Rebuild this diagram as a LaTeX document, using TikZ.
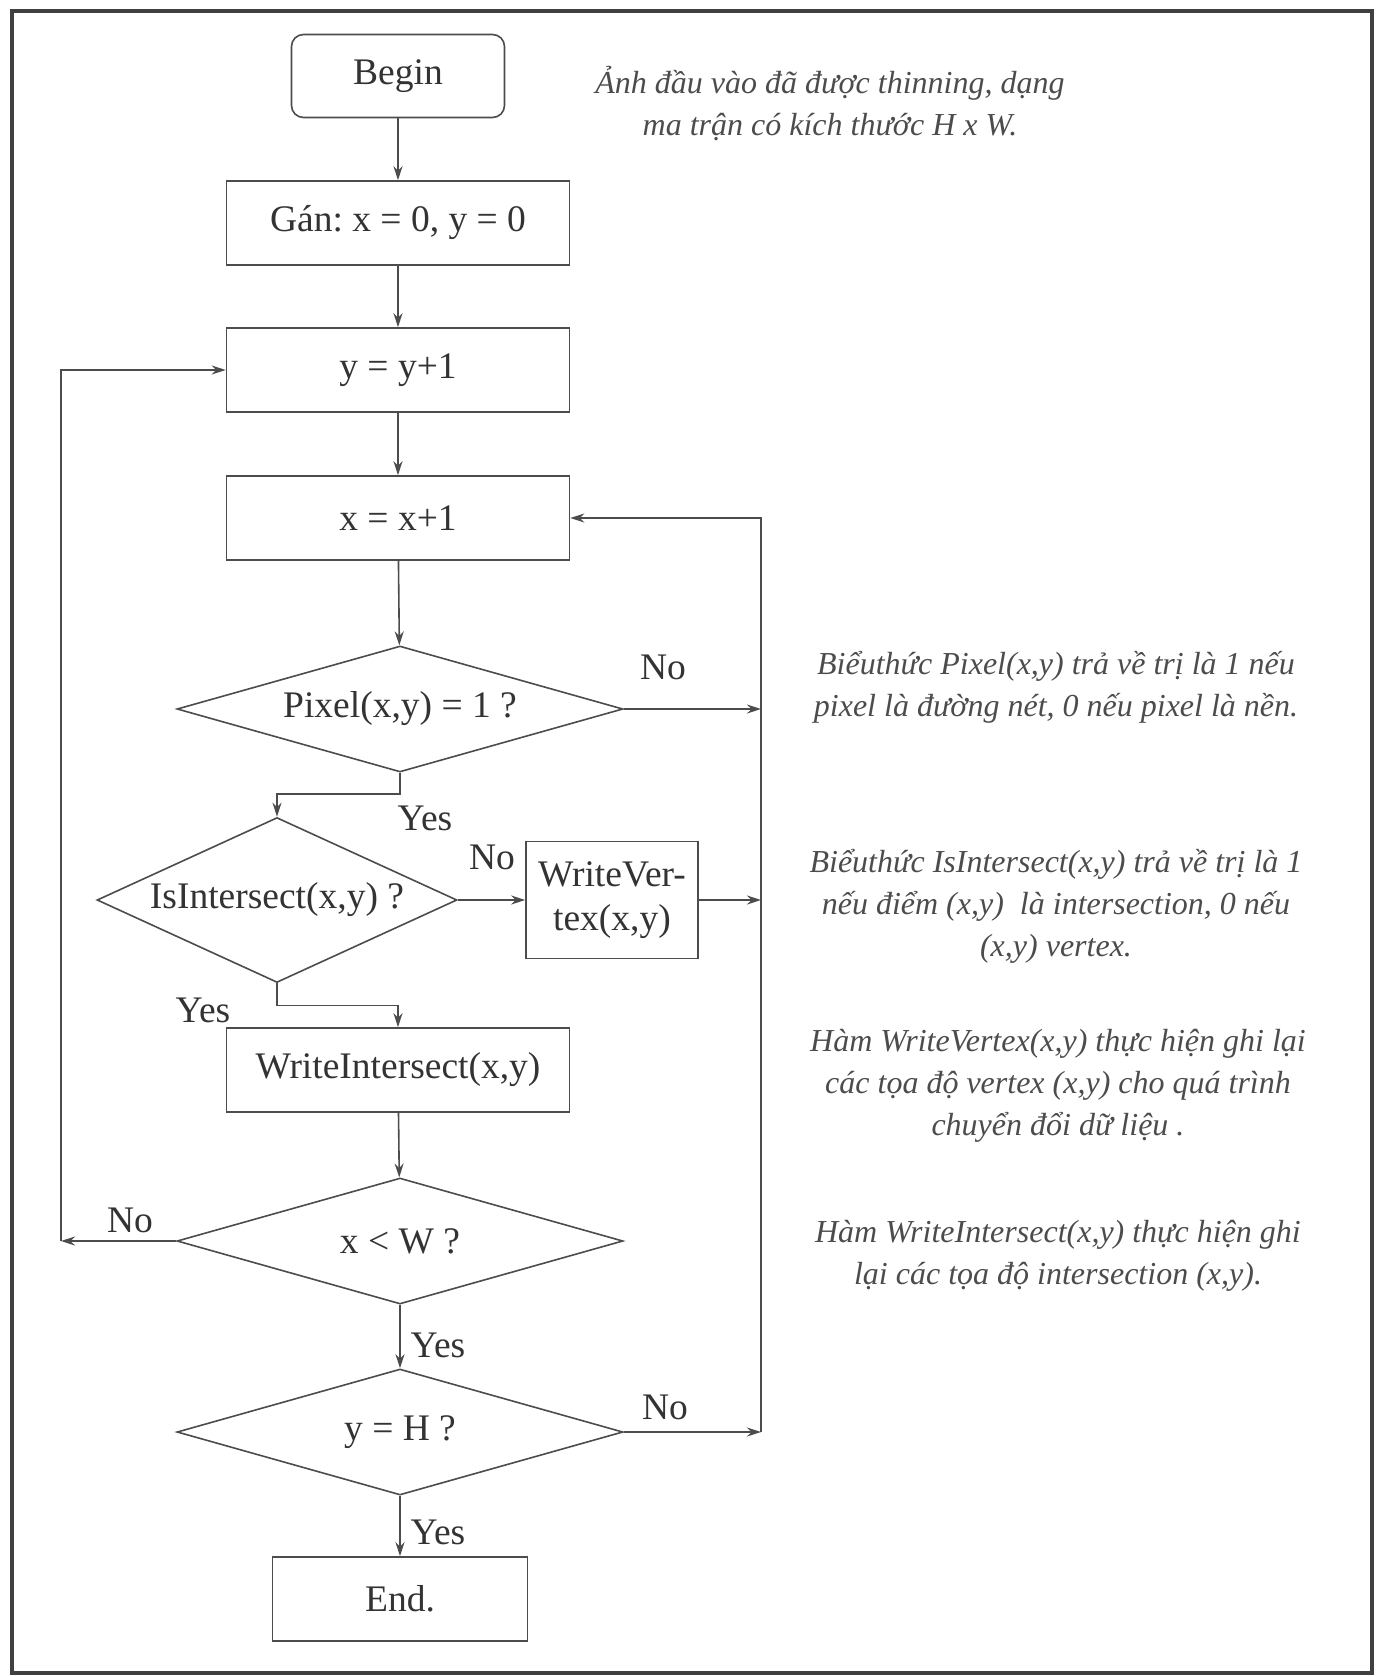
\documentclass[tikz,border=0pt]{standalone}
\usepackage{fontspec}
\setmainfont{Liberation Serif}
\usetikzlibrary{arrows.meta,shapes.geometric}
\frenchspacing
\newcommand\flowfont{\fontsize{37.5}{44}\selectfont}
\newcommand\remarkfont{\fontsize{32}{42}\selectfont\itshape}
\tikzset{
>={Stealth[length=14pt,width=9pt]},
  flowbox/.style={
    rectangle,
    draw=black!70, line width=1.6pt,
    minimum width=343pt,
    minimum height=84pt,
    font=\flowfont, text=black!80,
    align=center},
  startbox/.style={flowbox, rounded corners=12pt, minimum width=213pt, minimum height=83pt},
  decision/.style={
    diamond, aspect=3.5,
    draw=black!70, line width=1.6pt,
    inner sep=0pt,
    minimum width=446pt,
    minimum height=126pt,
    font=\flowfont, text=black!80},
  line/.style={draw=black!70, line width=1.6pt, ->},
  answer/.style={font=\flowfont, text=black!80, inner sep=0pt},
  remark/.style={font=\remarkfont, text=black!70, align=center},
}
\begin{document}
\begin{tikzpicture}[x=1pt,y=-1pt]
  \useasboundingbox (0,0) rectangle (1382,1676);
  \draw[line width=3.5pt, black!75] (12,11) rectangle (1372,1673);

  % main column
  \node[startbox] (begin) at (398,76) {Begin};
  \node[flowbox] (init) at (398,223) {Gán: x = 0, y = 0};
  \node[flowbox] (yinc) at (398,370) {y = y+1};
  \node[flowbox] (xinc) at (398,518) {x = x+1};
  \node[decision] (pixel) at (400,709) {Pixel(x,y) = 1 ?};
  \node[decision, aspect=2.2, minimum width=360pt, minimum height=165pt] (isint) at (277,900) {IsIntersect(x,y) ?};
  \node[flowbox, minimum width=172pt, minimum height=117pt] (wvert) at (612,900) {WriteVer-\\tex(x,y)};
  \node[flowbox] (wint) at (398,1070) {WriteIntersect(x,y)};
  \node[decision] (xlt) at (400,1241) {x < W ?};
  \node[decision] (yeq) at (400,1432) {y = H ?};
  \node[flowbox, minimum width=255pt] (end) at (400,1599) {End.};

  % return lines
  \coordinate (rloop) at (761,518);
  \coordinate (lloop) at (61,1241);

  \draw[line] (begin) -- (init);
  \draw[line] (init) -- (yinc);
  \draw[line] (yinc) -- (xinc);
  \draw[line] (xinc) -- (pixel);
  \draw[line] (pixel.east) -- (pixel.east -| rloop);
  \draw[line] (pixel.south) -- ++(0,21) -| (isint.north);
  \draw[line] (isint.east) -- (wvert.west);
  \draw[line] (wvert.east) -- (wvert.east -| rloop);
  \draw[line] (isint.south) -- ++(0,22) -| (wint.north);
  \draw[line] (wint) -- (xlt);
  \draw[line] (xlt.west) -- (lloop);
  \draw[line] (lloop) |- (yinc.west);
  \draw[line] (xlt) -- (yeq);
  \draw[line] (yeq.east) -- (yeq.east -| rloop);
  \draw[line] (yeq.east -| rloop) |- (xinc.east);
  \draw[line] (yeq) -- (end);

  % answers
  \node[answer] (no1) at (663,667) {No};
  \node[answer] (yes1) at (425,818) {Yes};
  \node[answer] (no2) at (492,857) {No};
  \node[answer] (yes2) at (203,1010) {Yes};
  \node[answer] (no3) at (130,1220) {No};
  \node[answer] (yes3) at (438,1345) {Yes};
  \node[answer] (no4) at (665,1407) {No};
  \node[answer] (yes4) at (438,1532) {Yes};

  % remarks
  \node[remark] (rem1) at (830,104) {Ảnh đầu vào đã được thinning, dạng\\ma trận có kích thước H x W.};
  \node[remark] (rem2) at (1056,687) {Biểuthức Pixel(x,y) trả về trị là 1 nếu\\pixel là đường nét, 0 nếu pixel là nền.};
  \node[remark] (rem3) at (1056,906) {Biểuthức IsIntersect(x,y) trả về trị là 1\\nếu điểm (x,y)\ \ là intersection, 0 nếu\\(x,y) vertex.};
  \node[remark] (rem4) at (1058,1086) {Hàm WriteVertex(x,y) thực hiện ghi lại\\các tọa độ vertex (x,y) cho quá trình\\chuyển đổi dữ liệu .};
  \node[remark] (rem5) at (1058,1256) {Hàm WriteIntersect(x,y) thực hiện ghi\\lại các tọa độ intersection (x,y).};
\end{tikzpicture}
\end{document}
